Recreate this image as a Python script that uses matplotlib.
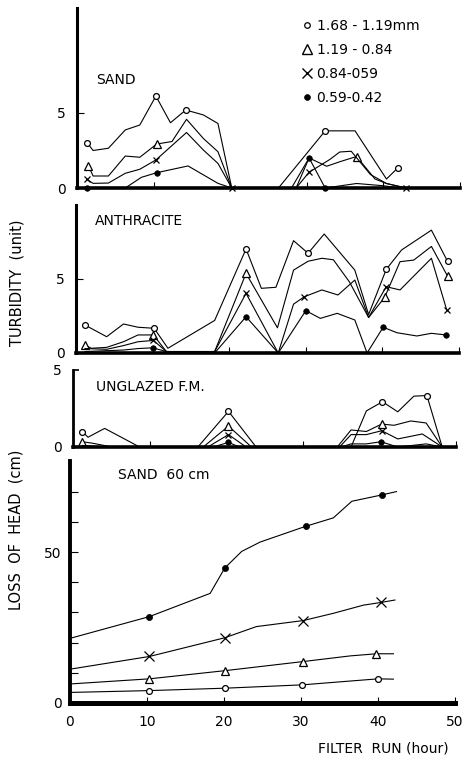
import matplotlib
matplotlib.use("Agg")
import matplotlib.pyplot as plt
from matplotlib.lines import Line2D

# ---------------- DATA ----------------
# Panel 1: SAND turbidity
sand_h_o = [1.35, 2.1, 4.1, 6.3, 8.2, 10.3, 12.2, 14.2, 16.5, 18.4, 20.2, 26.3, 32.4, 36.3, 40.4, 41.9]
sand_v_o = [3.0, 2.5, 2.65, 3.87, 4.2, 6.13, 4.35, 5.2, 4.87, 4.3, 0.0, 0.0, 3.81, 3.81, 0.6, 1.35]
sand_m_o = [0, 5, 7, 12, 15]
sand_h_t = [1.5, 2.1, 4.1, 6.3, 8.2, 10.4, 12.4, 14.3, 16.5, 18.4, 20.2, 28.0, 30.3, 32.6, 34.3, 36.5, 38.9, 40.4, 43.0]
sand_v_t = [1.47, 0.8, 0.8, 2.13, 2.05, 2.93, 3.1, 4.58, 3.3, 2.42, 0.0, 0.0, 2.0, 1.45, 1.75, 2.1, 0.6, 0.3, 0.0]
sand_m_t = [0, 5, 15]
sand_h_x = [1.27, 2.1, 4.1, 6.3, 8.2, 10.3, 14.3, 16.5, 18.4, 20.2, 28.6, 30.3, 33.0, 34.3, 35.8, 38.3, 40.4, 42.9]
sand_v_x = [0.58, 0.31, 0.33, 0.98, 1.25, 1.87, 3.7, 2.53, 1.64, 0.0, 0.0, 1.05, 1.9, 2.4, 2.45, 0.9, 0.3, 0.0]
sand_m_x = [0, 5, 9, 11, 17]
sand_h_f = [1.27, 6.3, 8.4, 10.4, 14.5, 18.4, 20.2, 28.6, 30.3, 32.4, 36.5, 40.0, 42.2]
sand_v_f = [0.0, 0.0, 0.71, 1.02, 1.47, 0.31, 0.0, 0.0, 2.0, 0.0, 0.3, 0.15, 0.0]
sand_m_f = [0, 3, 8, 9]

# Panel 2: ANTHRACITE turbidity
anth_h_o = [1.17, 4.0, 6.2, 8.1, 10.2, 12.0, 18.1, 22.2, 24.2, 26.1, 28.4, 30.3, 32.4, 36.4, 38.2, 40.5, 42.5, 46.4, 48.5]
anth_v_o = [1.89, 1.1, 1.96, 1.74, 1.67, 0.32, 2.2, 7.03, 4.37, 4.44, 7.59, 6.74, 8.04, 5.6, 2.6, 5.65, 6.96, 8.3, 6.2]
anth_m_o = [0, 4, 7, 11, 15, 18]
anth_h_t = [1.17, 2.0, 4.0, 6.2, 8.1, 10.1, 11.8, 18.1, 22.2, 26.3, 28.4, 30.3, 32.1, 33.6, 35.7, 38.2, 40.3, 42.3, 44.1, 46.4, 48.5]
anth_v_t = [0.54, 0.32, 0.38, 0.76, 1.22, 1.22, 0.1, 0.1, 5.38, 1.7, 5.6, 6.2, 6.4, 6.3, 4.8, 2.4, 3.76, 6.17, 6.28, 7.2, 5.2]
anth_m_t = [0, 5, 8, 16, 20]
anth_h_x = [1.17, 4.0, 6.2, 8.1, 10.1, 11.8, 18.1, 22.2, 26.4, 28.4, 29.8, 32.1, 34.2, 36.4, 38.2, 40.5, 42.3, 46.4, 48.4]
anth_v_x = [0.3, 0.25, 0.5, 0.76, 0.85, 0.1, 0.1, 4.03, 0.0, 3.3, 3.8, 4.26, 3.92, 4.93, 2.4, 4.48, 4.26, 6.4, 2.9]
anth_m_x = [4, 7, 10, 15, 18]
anth_h_f = [1.17, 6.2, 8.1, 10.0, 11.8, 18.1, 22.2, 26.4, 30.0, 31.9, 34.1, 36.4, 38.0, 40.1, 41.9, 44.5, 46.4, 48.3]
anth_v_f = [0.1, 0.2, 0.3, 0.35, 0.1, 0.0, 2.45, 0.0, 2.86, 2.34, 2.68, 2.23, 0.0, 1.74, 1.37, 1.15, 1.33, 1.22]
anth_m_f = [3, 6, 8, 13, 17]

# Panel 3: UNGLAZED F.M. turbidity
ung_h_o = [1.22, 1.96, 4.13, 8.7, 16.3, 20.3, 23.9, 36.3, 38.3, 40.4, 42.4, 44.5, 46.2, 48.2]
ung_v_o = [0.99, 0.63, 1.2, 0.0, 0.0, 2.3, 0.0, 0.0, 2.33, 2.92, 2.27, 3.28, 3.32, 0.0]
ung_m_o = [0, 5, 9, 12]
ung_h_t = [1.22, 2.6, 5.1, 17.0, 20.3, 23.3, 34.5, 36.3, 38.3, 40.3, 41.9, 44.1, 46.1, 48.2]
ung_v_t = [0.34, 0.24, 0.0, 0.0, 1.35, 0.0, 0.0, 1.1, 1.0, 1.48, 1.4, 1.68, 1.55, 0.0]
ung_m_t = [0, 4, 9]
ung_h_x = [1.22, 4.0, 17.6, 20.3, 22.6, 34.8, 36.3, 38.3, 40.3, 42.4, 45.6, 48.2]
ung_v_x = [0.1, 0.0, 0.0, 0.8, 0.0, 0.0, 0.8, 0.8, 1.05, 0.52, 0.84, 0.0]
ung_m_x = [3, 8]
ung_h_f = [1.22, 4.0, 18.3, 20.3, 21.7, 35.0, 36.3, 38.3, 40.2, 42.4, 46.1, 48.2]
ung_v_f = [0.05, 0.0, 0.0, 0.3, 0.0, 0.0, 0.2, 0.2, 0.34, 0.0, 0.2, 0.0]
ung_m_f = [3, 8]

# Panel 4: SAND 60 cm loss of head
loh_h_f = [0, 10.3, 18.2, 20.1, 22.3, 24.7, 30.6, 34.2, 36.6, 40.5, 42.4]
loh_v_f = [21.4, 28.6, 36.3, 44.7, 50.2, 53.3, 58.5, 61.3, 66.8, 68.9, 70.0]
loh_m_f = [1, 3, 6, 9]
loh_h_x = [0, 10.3, 20.1, 24.2, 30.3, 34.2, 38.1, 40.4, 42.2]
loh_v_x = [11.2, 15.4, 21.6, 25.3, 27.3, 29.7, 32.4, 33.3, 34.1]
loh_m_x = [1, 2, 4, 7]
loh_h_t = [0, 10.3, 20.1, 30.2, 36.4, 39.8, 42.0]
loh_v_t = [6.3, 8.0, 10.7, 13.7, 15.6, 16.3, 16.3]
loh_m_t = [1, 2, 3, 5]
loh_h_o = [0, 10.2, 20.1, 30.1, 40.0, 42.0]
loh_v_o = [3.5, 4.1, 4.9, 6.0, 8.0, 7.9]
loh_m_o = [1, 2, 3, 4]

legend_labels = ["1.68 - 1.19mm", "1.19 - 0.84", "0.84-059", "0.59-0.42"]
x_ticks = [0, 10, 20, 30, 40, 50]

# ---------------- STYLE ----------------
plt.rcParams['font.family'] = ['DejaVu Sans']
FS = 10
W, H = 475, 757
fig = plt.figure(figsize=(W / 100, H / 100), dpi=100)

def px_axes(left, zero_y, width, height):
    return fig.add_axes([left / W, 1 - zero_y / H, width / W, height / H])

STY = {
    'o': dict(marker='o', mfc='white', ms=4.2, mew=0.9),
    't': dict(marker='^', mfc='white', ms=5.2, mew=0.9),
    'x': dict(marker='x', mfc='black', ms=5.0, mew=0.9),
    'f': dict(marker='o', mfc='black', ms=4.0, mew=0.5),
}
LEG_STY = {
    'o': dict(marker='o', mfc='white', ms=4.0, mew=0.9),
    't': dict(marker='^', mfc='white', ms=7.5, mew=1.0),
    'x': dict(marker='x', mfc='black', ms=6.5, mew=1.0),
    'f': dict(marker='o', mfc='black', ms=4.2, mew=0.5),
}

def draw(ax, h, v, mk, kind, scale=1.0):
    st = dict(STY[kind])
    st['ms'] = st['ms'] * scale
    ax.plot(h, v, color='black', lw=0.8, markevery=mk, mec='black',
            clip_on=False, zorder=2, **st)

def style_axes(ax, ylim, lw_left, lw_bottom):
    ax.set_xlim(0, 50)
    ax.set_ylim(*ylim)
    for s in ['top', 'right']:
        ax.spines[s].set_visible(False)
    ax.spines['left'].set_linewidth(lw_left)
    ax.spines['bottom'].set_linewidth(lw_bottom)
    ax.patch.set_alpha(0)

# Panel 1
ax1 = px_axes(77, 188, 383, 180)
style_axes(ax1, (0, 12), 2.2, 2.6)
draw(ax1, sand_h_o, sand_v_o, sand_m_o, 'o')
draw(ax1, sand_h_t, sand_v_t, sand_m_t, 't')
draw(ax1, sand_h_x, sand_v_x, sand_m_x, 'x')
draw(ax1, sand_h_f, sand_v_f, sand_m_f, 'f')
ax1.set_yticks([0, 5])
ax1.set_xticks([10, 20, 30, 40, 50])
ax1.tick_params(axis='x', direction='in', length=4, width=0.8, labelbottom=False)
ax1.tick_params(axis='y', direction='in', length=5, width=0.8, pad=8, labelsize=FS)
ax1.text(0.05, 0.6, "SAND", transform=ax1.transAxes, fontsize=FS, ha='left', va='center')

# Panel 2
ax2 = px_axes(76, 353, 383, 148)
style_axes(ax2, (0, 10), 2.2, 2.6)
draw(ax2, anth_h_o, anth_v_o, anth_m_o, 'o')
draw(ax2, anth_h_t, anth_v_t, anth_m_t, 't')
draw(ax2, anth_h_x, anth_v_x, anth_m_x, 'x')
draw(ax2, anth_h_f, anth_v_f, anth_m_f, 'f')
ax2.set_yticks([0, 5])
ax2.set_xticks([10, 20, 30, 40, 50])
ax2.tick_params(axis='x', direction='in', length=4, width=0.8, labelbottom=False)
ax2.tick_params(axis='y', direction='in', length=5, width=0.8, pad=8, labelsize=FS)
ax2.text(0.05, 0.89, "ANTHRACITE", transform=ax2.transAxes, fontsize=FS, ha='left', va='center')

# Panel 3
ax3 = px_axes(73, 447, 383, 77.5)
style_axes(ax3, (0, 5), 2.0, 2.6)
draw(ax3, ung_h_o, ung_v_o, ung_m_o, 'o')
draw(ax3, ung_h_t, ung_v_t, ung_m_t, 't')
draw(ax3, ung_h_x, ung_v_x, ung_m_x, 'x')
draw(ax3, ung_h_f, ung_v_f, ung_m_f, 'f')
ax3.set_yticks([0, 5])
ax3.set_xticks([10, 30, 50])
ax3.tick_params(axis='x', direction='in', length=4, width=0.8, labelbottom=False)
ax3.tick_params(axis='y', direction='in', length=4, width=1.2, pad=8, labelsize=FS)
ax3.text(0.06, 0.78, "UNGLAZED F.M.", transform=ax3.transAxes, fontsize=FS, ha='left', va='center')

# Panel 4
ax4 = px_axes(70, 703, 385, 241.6)
style_axes(ax4, (0, 80), 2.8, 3.6)
draw(ax4, loh_h_f, loh_v_f, loh_m_f, 'f', 1.1)
draw(ax4, loh_h_x, loh_v_x, loh_m_x, 'x', 1.35)
draw(ax4, loh_h_t, loh_v_t, loh_m_t, 't', 1.1)
draw(ax4, loh_h_o, loh_v_o, loh_m_o, 'o', 1.0)
ax4.set_yticks(list(range(0, 80, 10)))
ax4.set_yticklabels(['0', '', '', '', '', '50', '', ''])
ax4.set_xticks(x_ticks)
ax4.tick_params(axis='x', direction='in', length=4, width=0.8, pad=9, labelsize=FS)
ax4.tick_params(axis='y', direction='in', length=6, width=0.8, pad=6, labelsize=FS)
ax4.text(0.125, 0.945, "SAND  60 cm", transform=ax4.transAxes, fontsize=FS, ha='left', va='center')

# Axis labels
fig.text(17 / W, 1 - 283 / H, "TURBIDITY  (unit)", rotation=90, fontsize=10.5,
         ha='center', va='center')
fig.text(16 / W, 1 - 530 / H, "LOSS  OF  HEAD  (cm)", rotation=90, fontsize=10.5,
         ha='center', va='center')
fig.text(383 / W, 1 - 748 / H, "FILTER  RUN (hour)", fontsize=10,
         ha='center', va='center')

# Legend
handles = [
    Line2D([], [], ls='none', color='black', mec='black', **LEG_STY['o']),
    Line2D([], [], ls='none', color='black', mec='black', **LEG_STY['t']),
    Line2D([], [], ls='none', color='black', mec='black', **LEG_STY['x']),
    Line2D([], [], ls='none', color='black', mec='black', **LEG_STY['f']),
]
fig.legend(handles, legend_labels, loc='upper left',
           bbox_to_anchor=(302 / W, 1 - 19 / H), frameon=False, fontsize=FS,
           handlelength=0.7, handletextpad=0.35, labelspacing=0.72,
           borderpad=0, borderaxespad=0)

fig.savefig("out.png", dpi=100)
